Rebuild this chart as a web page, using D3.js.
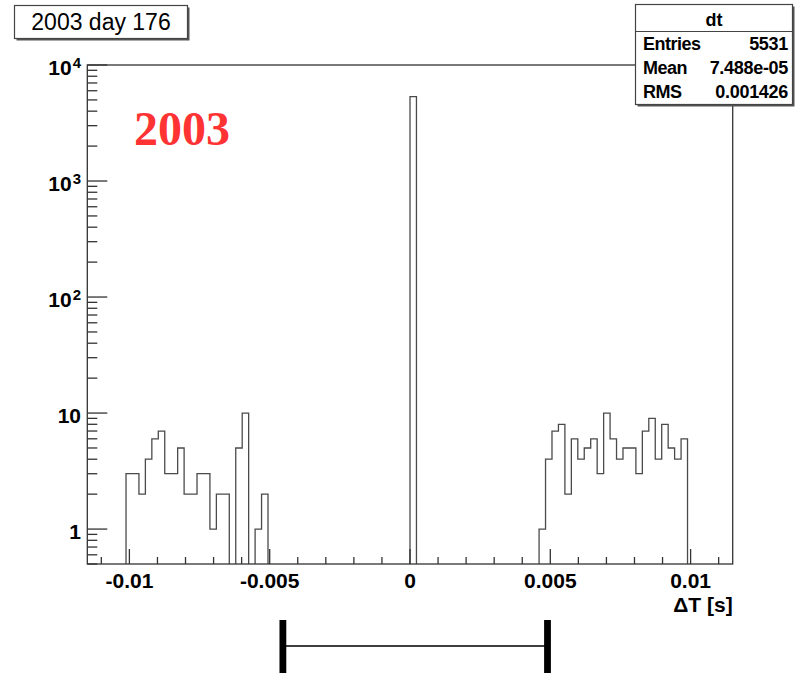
<!DOCTYPE html>
<html>
<head>
<meta charset="utf-8">
<script src="https://cdn.jsdelivr.net/npm/d3@7"></script>
<style>
  html, body { margin: 0; padding: 0; background: #fff; }
  svg { display: block; font-family: "Liberation Sans", Arial, Helvetica, sans-serif; }
</style>
</head>
<body>
<svg id="chart" width="796" height="673"></svg>
<script>
// Histogram "dt": 100 bins over [-0.0115, 0.0115] s
const xRange = [-0.0115, 0.0115];
const nBins = 100;
const leftStartBin = 6;
const leftCounts = [3, 3, 2, 4, 6, 7, 3, 3, 5, 2, 2, 3, 3, 1, 2, 2, 0, 5, 10, 0, 1, 2];
const peakBin = 50;
const peakCount = 5340;
const rightStartBin = 70;
const rightCounts = [1, 4, 7, 8, 2, 6, 4, 5, 6, 3, 10, 6, 4, 5, 5, 3, 7, 9, 4, 8, 5, 4, 6];

const yRange = [0.5, 1e4];
const xMajorTicks = [-0.01, -0.005, 0, 0.005, 0.01];
const xTickLabels = ["-0.01", "-0.005", "0", "0.005", "0.01"];
const yMajorTicks = [1, 10, 100, 1000, 10000];
const yTickBase = ["1", "10", "10", "10", "10"];
const yTickExp = ["", "", "2", "3", "4"];

const titleText = "2003 day 176";
const yearText = "2003";
const xAxisTitle = "\u0394T [s]";
const statsTitle = "dt";
const statsNames = ["Entries", "Mean", "RMS"];
const statsValues = ["5531", "7.488e-05", "0.001426"];
const bracketEnds = [-0.00453, 0.0049];

// full per-bin contents
const counts = new Array(nBins).fill(0);
leftCounts.forEach((c, i) => counts[leftStartBin + i] = c);
counts[peakBin] = peakCount;
rightCounts.forEach((c, i) => counts[rightStartBin + i] = c);
const binW = (xRange[1] - xRange[0]) / nBins;

const svg = d3.select("#chart");
const frame = { left: 87.3, right: 732.7, top: 65, bottom: 564 };

const x = d3.scaleLinear().domain(xRange).range([frame.left, frame.right]);
const y = d3.scaleLog().domain(yRange).range([frame.bottom, frame.top]);

svg.append("rect").attr("width", 796).attr("height", 673).attr("fill", "#fff");

svg.append("defs").append("clipPath").attr("id", "frameClip")
  .append("rect")
  .attr("x", frame.left).attr("y", frame.top)
  .attr("width", frame.right - frame.left).attr("height", frame.bottom - frame.top);

// histogram outline as a step path; empty bins drop to the frame floor
const yOf = c => c > 0 ? y(c) : frame.bottom + 2;
let d = `M${x(xRange[0])},${frame.bottom + 2}`;
counts.forEach((c, i) => {
  const x0 = x(xRange[0] + i * binW), x1 = x(xRange[0] + (i + 1) * binW);
  d += `L${x0},${yOf(c)}L${x1},${yOf(c)}`;
});
d += `L${x(xRange[1])},${frame.bottom + 2}`;
svg.append("path")
  .attr("d", d)
  .attr("clip-path", "url(#frameClip)")
  .attr("fill", "none")
  .attr("stroke", "#4a4a4a")
  .attr("stroke-width", 1.3);

// frame
svg.append("rect")
  .attr("x", frame.left).attr("y", frame.top)
  .attr("width", frame.right - frame.left).attr("height", frame.bottom - frame.top)
  .attr("fill", "none").attr("stroke", "#333").attr("stroke-width", 1.3);

// x ticks: 0.001 minors, longer at labelled values
const xMinor = d3.range(-11, 12).map(k => k * 0.001);
svg.append("g").selectAll("line").data(xMinor).join("line")
  .attr("x1", d => x(d)).attr("x2", d => x(d))
  .attr("y1", frame.bottom).attr("y2", d => frame.bottom - (xMajorTicks.some(m => Math.abs(m - d) < 1e-9) ? 15 : 7))
  .attr("stroke", "#333").attr("stroke-width", 1.3);

svg.append("g").selectAll("text").data(xMajorTicks).join("text")
  .attr("x", d => x(d)).attr("y", 588)
  .attr("text-anchor", "middle")
  .attr("font-size", 21).attr("font-weight", "bold")
  .text((d, i) => xTickLabels[i]);

svg.append("text")
  .attr("x", frame.right).attr("y", 612)
  .attr("text-anchor", "end")
  .attr("font-size", 21).attr("font-weight", "bold")
  .text(xAxisTitle);

// y ticks (log): majors per decade, minors 2..9
const yMinor = [];
[0.1, 1, 10, 100, 1000].forEach(dec => {
  for (let k = 2; k <= 9; k++) {
    const v = k * dec;
    if (v >= yRange[0] && v <= yRange[1]) yMinor.push(v);
  }
});
svg.append("g").selectAll("line").data(yMinor).join("line")
  .attr("x1", frame.left).attr("x2", frame.left + 10)
  .attr("y1", d => y(d)).attr("y2", d => y(d))
  .attr("stroke", "#333").attr("stroke-width", 1.3);
svg.append("g").selectAll("line").data(yMajorTicks).join("line")
  .attr("x1", frame.left).attr("x2", frame.left + 20)
  .attr("y1", d => y(d)).attr("y2", d => y(d))
  .attr("stroke", "#333").attr("stroke-width", 1.3);

const yLab = svg.append("g").selectAll("text").data(yMajorTicks).join("text")
  .attr("x", 81).attr("y", d => y(d) + 10)
  .attr("text-anchor", "end")
  .attr("font-size", 21).attr("font-weight", "bold");
yLab.append("tspan").text((d, i) => yTickBase[i]);
yLab.filter((d, i) => yTickExp[i] !== "")
  .append("tspan")
  .attr("dx", 1).attr("dy", -7).attr("font-size", 15)
  .text(d => yTickExp[yMajorTicks.indexOf(d)]);

// red year label
svg.append("text")
  .attr("x", 134).attr("y", 145)
  .style("font-family", "'Liberation Serif', 'Times New Roman', serif")
  .attr("font-size", 48).attr("font-weight", "bold")
  .attr("fill", "#ff3333")
  .text(yearText);

// title box with shadow
const tb = { x: 14.5, y: 5.5, w: 173, h: 33 };
svg.append("rect").attr("x", tb.x + 2).attr("y", tb.y + 2).attr("width", tb.w).attr("height", tb.h).attr("fill", "#555");
svg.append("rect").attr("x", tb.x).attr("y", tb.y).attr("width", tb.w).attr("height", tb.h)
  .attr("fill", "#fff").attr("stroke", "#444").attr("stroke-width", 1.2);
svg.append("text").attr("x", tb.x + tb.w / 2).attr("y", 30)
  .attr("text-anchor", "middle").attr("font-size", 23)
  .text(titleText);

// statistics box
const sb = { x: 635.5, y: 4.5, w: 157, h: 100 };
svg.append("rect").attr("x", sb.x + 2).attr("y", sb.y + 2).attr("width", sb.w).attr("height", sb.h).attr("fill", "#555");
svg.append("rect").attr("x", sb.x).attr("y", sb.y).attr("width", sb.w).attr("height", sb.h)
  .attr("fill", "#fff").attr("stroke", "#444").attr("stroke-width", 1.2);
svg.append("line").attr("x1", sb.x).attr("x2", sb.x + sb.w).attr("y1", 31.5).attr("y2", 31.5)
  .attr("stroke", "#444").attr("stroke-width", 1.2);
svg.append("text").attr("x", sb.x + sb.w / 2).attr("y", 26)
  .attr("text-anchor", "middle").attr("font-size", 18).attr("font-weight", "bold")
  .text(statsTitle);
const rowY = [50, 74, 98];
svg.append("g").selectAll("text").data(statsNames).join("text")
  .attr("x", 643).attr("y", (d, i) => rowY[i])
  .attr("font-size", 18).attr("font-weight", "bold").attr("letter-spacing", -0.5)
  .text(d => d);
svg.append("g").selectAll("text").data(statsValues).join("text")
  .attr("x", 788).attr("y", (d, i) => rowY[i])
  .attr("text-anchor", "end")
  .attr("font-size", 18).attr("font-weight", "bold").attr("letter-spacing", -0.3)
  .text(d => d);

// bracket below the axis
const br = svg.append("g");
br.append("line")
  .attr("x1", x(bracketEnds[0])).attr("x2", x(bracketEnds[1]))
  .attr("y1", 646).attr("y2", 646)
  .attr("stroke", "#000").attr("stroke-width", 1.6);
br.selectAll("rect").data(bracketEnds).join("rect")
  .attr("x", d => x(d) - 3.4).attr("y", 620)
  .attr("width", 6.8).attr("height", 53)
  .attr("fill", "#000");
</script>
</body>
</html>
